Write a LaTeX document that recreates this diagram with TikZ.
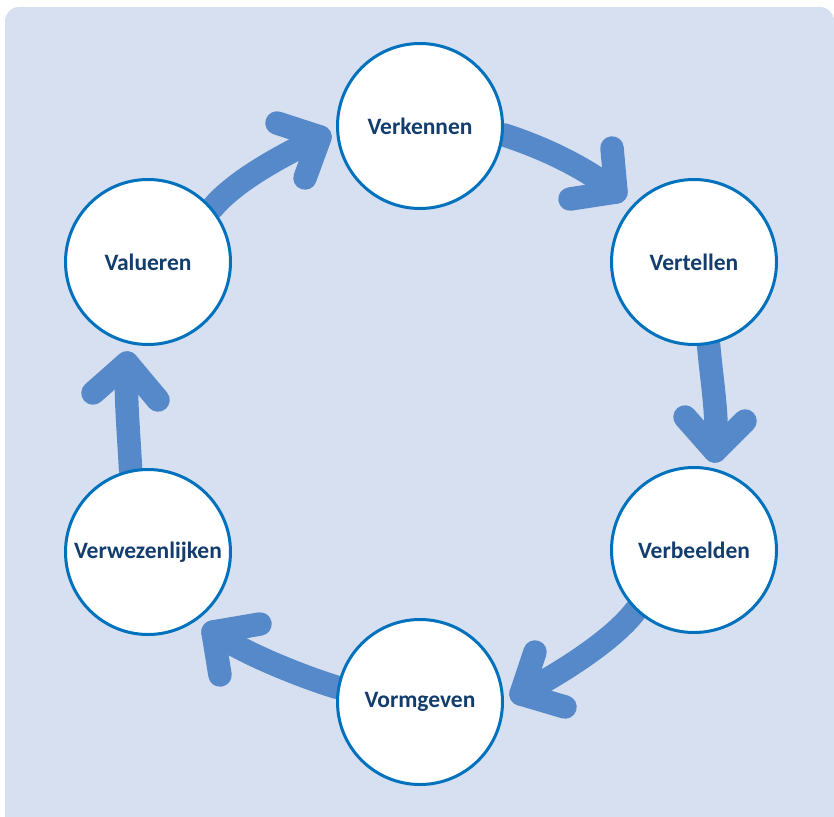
\documentclass[tikz,border=0pt]{standalone}
\usepackage{fontspec}
\setmainfont{Carlito}
\definecolor{bgblue}{HTML}{D7E0F1}
\definecolor{ringblue}{HTML}{0071BC}
\definecolor{arrowblue}{HTML}{5689C9}
\definecolor{navy}{HTML}{123D6D}
\pgfdeclarelayer{back}
\pgfsetlayers{back,main}
\tikzset{
  stage/.style={circle, draw=ringblue, line width=3pt, fill=white,
    minimum size=165pt, inner sep=0pt, text=navy,
    font=\fontsize{23.5}{27}\selectfont\bfseries},
  flow/.style={draw=arrowblue, line width=23.5pt, line cap=round, line join=round},
  panel/.style={fill=bgblue, rounded corners=14pt}
}
\begin{document}
\begin{tikzpicture}[x={(1pt,0)}, y={(0,-1pt)}]
\useasboundingbox (0,0) rectangle (834,816);
% stages
\node[stage] (verk) at (420,126) {Verkennen};
\node[stage] (vert) at (694,262) {Vertellen};
\node[stage] (verb) at (694,550) {Verbeelden};
\node[stage] (vorm) at (420,702) {Vormgeven};
\node[stage] (verw) at (148,552) {Verwezenlijken};
\node[stage] (valu) at (148,262) {Valueren};
% arrow tips
\coordinate (t1) at (616,192);
\coordinate (t2) at (715,451);
\coordinate (t3) at (521,694);
\coordinate (t4) at (213,632);
\coordinate (t5) at (127,363);
\coordinate (t6) at (320,137);
\begin{pgfonlayer}{back}
\fill[panel] (5,7) rectangle (834,830);
% shafts
\draw[flow] (verk.-6) .. controls (541.5,147) and (583,166) .. (t1);
\draw[flow] (vert.-80) .. controls (711.5,380) and (719,421) .. (t2);
\draw[flow] (verb.-134) .. controls (611.6,642.4) and (552,678) .. (t3);
\draw[flow] (vorm.170) .. controls (300,676) and (241.5,652.3) .. (t4);
\draw[flow] (verw.102) .. controls (129.3,439.8) and (124.7,393) .. (t5);
\draw[flow] (valu.40) .. controls (237.5,178) and (288.6,152.5) .. (t6);
% heads
\draw[flow] (612,148) -- (t1) -- (570,199);
\draw[flow] (685,417) -- (t2) -- (745,421);
\draw[flow] (535,652) -- (t3) -- (565,707);
\draw[flow] (260,624) -- (t4) -- (220,675);
\draw[flow] (93,393) -- (t5) -- (158,400);
\draw[flow] (277,123) -- (t6) -- (305,178);
\end{pgfonlayer}
\end{tikzpicture}
\end{document}
